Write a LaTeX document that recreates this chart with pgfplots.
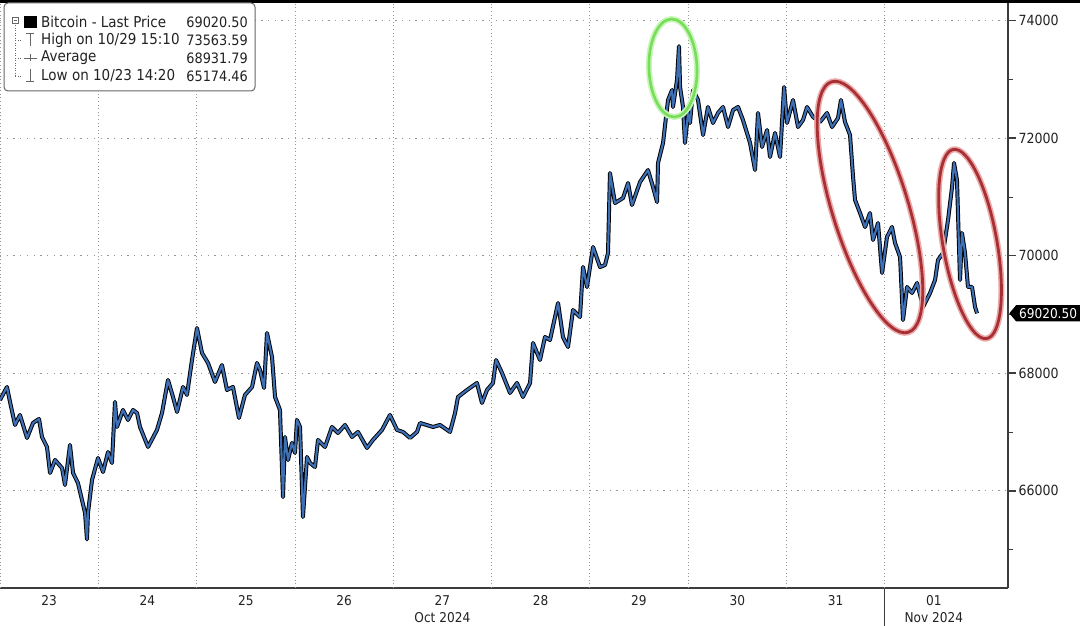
\documentclass[border=0pt]{standalone}
\usepackage{fontspec}
\setmainfont{DejaVu Sans Condensed}
\usepackage{pgfplots}
\pgfplotsset{compat=1.18}
\usepackage{pgfplotstable}
\usetikzlibrary{shapes.geometric,shapes.symbols}
\definecolor{btcblue}{RGB}{62,112,182}
\definecolor{gridgray}{RGB}{150,150,150}
\definecolor{axisgray}{RGB}{60,60,60}
\definecolor{ringred}{RGB}{168,48,52}
\definecolor{ringredglow}{RGB}{235,170,170}
\definecolor{ringgreen}{RGB}{120,222,90}
\definecolor{ringgreenglow}{RGB}{200,245,185}
\definecolor{txt}{RGB}{34,34,34}

\pgfplotstableread{
day price
0.000 67546
0.071 67767
0.102 67512
0.153 67121
0.203 67291
0.275 66900
0.336 67155
0.397 67223
0.427 66917
0.478 66747
0.509 66304
0.560 66525
0.631 66389
0.661 66100
0.712 66781
0.743 66304
0.793 66134
0.834 65845
0.865 65624
0.885 65175
0.895 65624
0.936 66185
0.997 66559
1.048 66321
1.099 66661
1.139 66474
1.170 67512
1.190 67087
1.251 67376
1.302 67206
1.353 67376
1.394 67325
1.424 67087
1.506 66747
1.597 67036
1.648 67325
1.709 67886
1.760 67597
1.801 67342
1.862 67767
1.902 67631
1.953 68226
2.004 68770
2.055 68345
2.116 68175
2.187 67852
2.258 68141
2.309 67716
2.370 67767
2.431 67240
2.492 67631
2.564 67767
2.614 68175
2.645 68056
2.686 67750
2.716 68685
2.767 68277
2.798 67597
2.848 67376
2.879 65896
2.899 66917
2.930 66525
2.970 66815
3.001 66645
3.021 67206
3.052 67087
3.082 65556
3.123 66576
3.154 66474
3.204 66406
3.235 66866
3.306 66747
3.377 67087
3.438 66985
3.510 67121
3.581 66917
3.642 67002
3.733 66730
3.794 66866
3.886 67036
3.967 67291
4.039 67036
4.100 67002
4.171 66900
4.242 67002
4.273 67155
4.405 67087
4.476 67121
4.578 67002
4.629 67325
4.659 67597
4.751 67716
4.852 67835
4.903 67495
4.954 67716
5.015 67835
5.046 68226
5.107 68005
5.188 67665
5.259 67835
5.320 67597
5.392 67835
5.422 68515
5.493 68226
5.544 68617
5.595 68566
5.677 69195
5.727 68617
5.778 68447
5.829 69076
5.900 68957
5.931 69808
5.971 69468
6.033 70148
6.104 69808
6.155 69842
6.185 70046
6.205 71406
6.256 70896
6.338 70981
6.389 71236
6.429 70862
6.511 71253
6.592 71457
6.643 71168
6.684 70913
6.694 71577
6.745 71917
6.775 72359
6.796 72648
6.836 72818
6.846 72529
6.887 72988
6.907 73564
6.918 72869
6.948 72529
6.968 71917
6.999 72427
7.019 72257
7.050 72818
7.101 72648
7.152 72053
7.202 72529
7.253 72257
7.304 72427
7.355 72529
7.406 72189
7.457 72478
7.508 72529
7.558 72308
7.630 71917
7.681 71457
7.711 72427
7.752 71849
7.803 72138
7.833 71679
7.884 72087
7.935 71679
7.976 72869
8.006 72257
8.067 72648
8.118 72189
8.169 72308
8.210 72529
8.271 72359
8.342 72274
8.413 72427
8.464 72189
8.525 72342
8.555 72648
8.596 72274
8.647 72053
8.678 71338
8.698 70947
8.749 70726
8.800 70488
8.850 70726
8.881 70267
8.932 70556
8.973 69706
9.023 70318
9.074 70488
9.105 70216
9.156 69978
9.186 68906
9.227 69468
9.278 69366
9.329 69536
9.390 69128
9.461 69366
9.512 69587
9.542 69927
9.593 70046
9.644 70607
9.685 71168
9.705 71577
9.735 71287
9.766 69587
9.786 70386
9.817 70046
9.847 69468
9.888 69468
9.919 69128
9.939 69020.5
}\btc

\begin{document}
\begin{tikzpicture}[x=1pt,y=1pt]
\useasboundingbox (0,0) rectangle (1080,625);
\fill[white] (0,0) rectangle (1080,625);
\begin{axis}[
  at={(0pt,37pt)}, anchor=south west,
  scale only axis, width=1008pt, height=585pt,
  xmin=0, xmax=10.254, ymin=64348, ymax=74298,
  clip=false,
  axis x line*=bottom, axis y line*=right,
  axis line style={draw=axisgray, line width=1.1pt},
  xtick={0.5,1.5,...,9.5},
  xticklabels={23,24,25,26,{27\\Oct 2024},28,29,30,31,{01\\Nov 2024}},
  xticklabel style={align=center, font=\fontsize{13.5}{16.5}\selectfont, text=txt, yshift=4pt},
  x tick style={draw=none},
  extra x ticks={0,1,...,9},
  extra x tick labels={},
  extra x tick style={grid=major, major grid style={draw=gridgray, line width=0.8pt, dash pattern=on 1pt off 2.6pt}, tick style={draw=none}},
  ytick={66000,68000,...,74000},
  minor ytick={65000,67000,...,73000},
  ymajorgrids,
  y grid style={draw=gridgray, line width=1pt, dash pattern=on 1.3pt off 5.4pt},
  tick align=outside,
  y tick style={draw=axisgray},
  major tick length=8pt, minor tick length=5pt,
  every major tick/.append style={line width=1.6pt},
  every minor tick/.append style={line width=0.8pt},
  yticklabel style={font=\fontsize{14}{16}\selectfont, text=txt, /pgf/number format/1000 sep={}, /pgf/number format/assume math mode=true, xshift=-1pt},
  scaled y ticks=false,
]
\addplot[black, line width=4pt, line join=round] table[x=day,y=price] {\btc};
\addplot[btcblue, line width=2.1pt, line join=round] table[x=day,y=price] {\btc};

% month separator below the axis
\draw[axisgray, line width=1pt] (axis cs:9,64348) -- ++(0pt,-40pt);

% highlight rings
\node[ellipse, draw=ringgreenglow, line width=6pt, minimum width=98pt, minimum height=48pt, inner sep=0pt, rotate=-88] at (axis cs:6.846,73192) {};
\node[ellipse, draw=ringgreen, line width=2.6pt, minimum width=98pt, minimum height=48pt, inner sep=0pt, rotate=-88] at (axis cs:6.846,73192) {};
\node[ellipse, draw=ringredglow, line width=6pt, minimum width=262pt, minimum height=76pt, inner sep=0pt, rotate=-73] at (axis cs:8.85,70828) {};
\node[ellipse, draw=ringred, line width=2.8pt, minimum width=262pt, minimum height=76pt, inner sep=0pt, rotate=-73] at (axis cs:8.85,70828) {};
\node[ellipse, draw=ringredglow, line width=6pt, minimum width=192pt, minimum height=54pt, inner sep=0pt, rotate=-80] at (axis cs:9.868,70199) {};
\node[ellipse, draw=ringred, line width=2.8pt, minimum width=192pt, minimum height=54pt, inner sep=0pt, rotate=-80] at (axis cs:9.868,70199) {};

% last price tag
\node[signal, signal to=west, signal pointer angle=100, fill=black, text=white, anchor=west, inner xsep=3pt, inner ysep=3pt, font=\fontsize{13.5}{15}\selectfont] at (axis cs:10.265,69020.5) {69020.50};
\end{axis}

% top band
\fill[black] (0,622) rectangle (1080,625);

% legend
\draw[gray!80!black, line width=1pt, fill=white, rounded corners=4pt] (4,622) rectangle (255,534);
\begin{scope}[gray!80!black, line width=0.7pt]
  \draw (12,602) rectangle (18,608);
  \draw (13.5,605) -- (16.5,605);
  \draw[dash pattern=on 1pt off 1.5pt] (15,602) -- (15,549);
  \draw[dash pattern=on 1pt off 1.5pt] (15,585) -- (22,585);
  \draw[dash pattern=on 1pt off 1.5pt] (15,567) -- (22,567);
  \draw[dash pattern=on 1pt off 1.5pt] (15,549) -- (22,549);
  \draw (26,592) -- (34,592); \draw (30,592) -- (30,579);
  \draw (24,567) -- (37,567); \draw (30,563.5) -- (30,570.5);
  \draw (30,556) -- (30,543.5); \draw (26,543.5) -- (34,543.5);
\end{scope}
\fill[black] (24,597) rectangle (37,609);
\begin{scope}[every node/.style={font=\fontsize{15}{17}\selectfont, text=txt, inner sep=0pt}]
  \node[anchor=west] at (41,603) {Bitcoin - Last Price};
  \node[anchor=west] at (41,585) {High on 10/29 15:10};
  \node[anchor=west] at (41,567) {Average};
  \node[anchor=west] at (41,549) {Low on 10/23 14:20};
\end{scope}
\begin{scope}[every node/.style={font=\fontsize{14.3}{17}\selectfont, text=txt, inner sep=0pt}]
  \node[anchor=east] at (248,603) {69020.50};
  \node[anchor=east] at (248,585) {73563.59};
  \node[anchor=east] at (248,567) {68931.79};
  \node[anchor=east] at (248,549) {65174.46};
\end{scope}
\end{tikzpicture}
\end{document}
